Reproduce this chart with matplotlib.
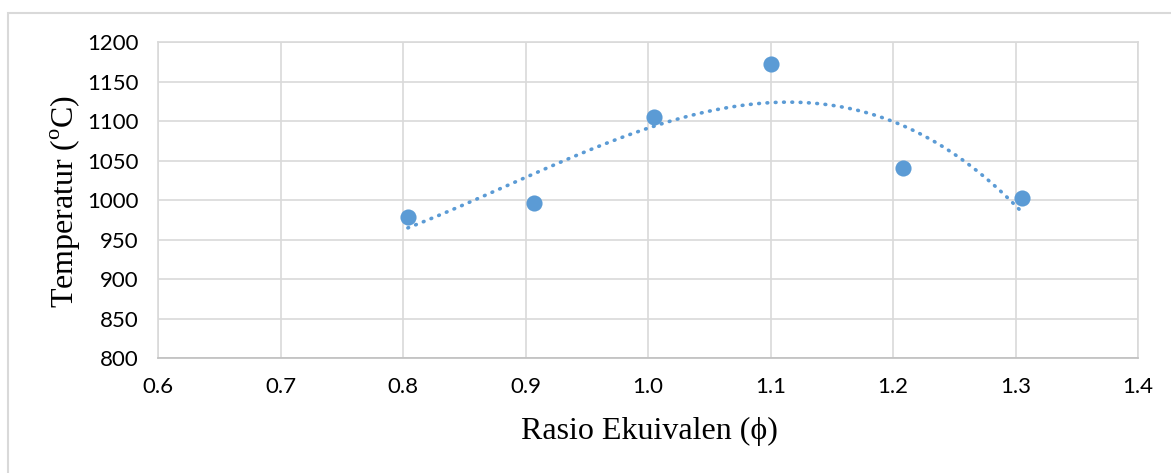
import numpy as np
import matplotlib
matplotlib.use("Agg")
from matplotlib import pyplot as plt
from matplotlib.patches import Rectangle

# data
phi = [0.804, 0.907, 1.005, 1.100, 1.208, 1.305]
temp = [978, 996, 1105, 1172, 1040, 1003]
x_ticks = [0.6, 0.7, 0.8, 0.9, 1.0, 1.1, 1.2, 1.3, 1.4]
y_ticks = [800, 850, 900, 950, 1000, 1050, 1100, 1150, 1200]

blue = "#5b9bd5"
grid = "#d9d9d9"

plt.rcParams["mathtext.fontset"] = "custom"
plt.rcParams["mathtext.rm"] = "Liberation Serif"

fig = plt.figure(figsize=(11.71, 4.73), dpi=100)
ax = fig.add_axes([158 / 1171, 1 - 358 / 473, 980 / 1171, 316 / 473])

# outer chart frame
fig.patches.append(Rectangle((8 / 1171, -0.1), 1.2, 1.1 - 13 / 473,
                             transform=fig.transFigure, fill=False,
                             edgecolor="#d9d9d9", linewidth=1.5))

# polynomial (order 3) trendline, like excel
coef = np.polyfit(phi, temp, 3)
xs = np.linspace(min(phi), max(phi), 200)
ax.plot(xs, np.polyval(coef, xs), color=blue, linewidth=2.6,
        linestyle=(0, (0.2, 2.1)), dash_capstyle="round", zorder=3)

ax.scatter(phi, temp, s=135, color=blue, zorder=4, linewidths=0)

ax.set_xlim(0.6, 1.4)
ax.set_ylim(800, 1200)
ax.set_xticks(x_ticks)
ax.set_yticks(y_ticks)
ax.set_xticklabels([f"{v:.1f}" for v in x_ticks])
ax.grid(True, color=grid, linewidth=1.2)
ax.set_axisbelow(True)
for s in ax.spines.values():
    s.set_color(grid)
    s.set_linewidth(1.2)
ax.spines["bottom"].set_color("#bfbfbf")
ax.tick_params(length=0, labelsize=16, pad=14, colors="black")
for lab in ax.get_xticklabels() + ax.get_yticklabels():
    lab.set_fontfamily("Lato")

fig.text(649 / 1171, 1 - 431 / 473, "Rasio Ekuivalen (\u03d5)", ha="center", va="center",
         fontsize=23, family=["Liberation Serif", "DejaVu Serif"])
fig.text(66 / 1171, 1 - 202 / 473, r"Temperatur ($^{\mathrm{o}}$C)", ha="center", va="center",
         rotation=90, fontsize=23, family=["Liberation Serif", "DejaVu Serif"])

fig.savefig("out.png", dpi=100, facecolor="white")
